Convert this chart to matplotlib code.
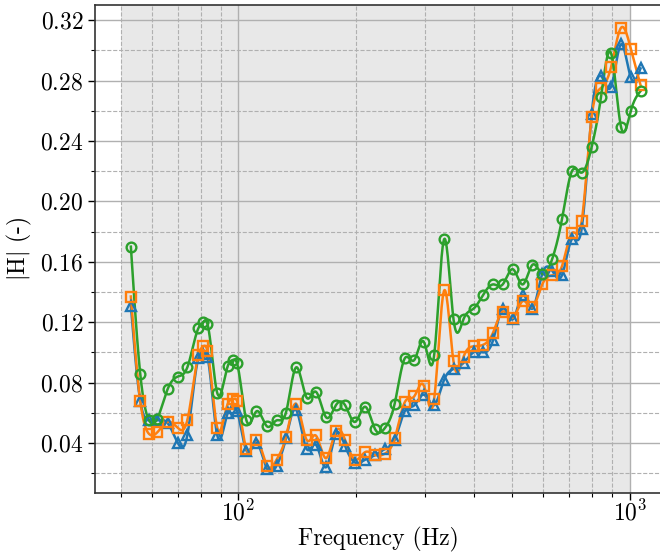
import numpy as np
import matplotlib
matplotlib.use("Agg")
import matplotlib.pyplot as plt
from matplotlib.ticker import MultipleLocator, FixedLocator, NullFormatter, FormatStrFormatter

plt.rcParams['font.family'] = 'serif'
plt.rcParams['font.serif'] = ['cmr10', 'DejaVu Serif']
plt.rcParams['mathtext.fontset'] = 'cm'
plt.rcParams['axes.formatter.use_mathtext'] = True
plt.rcParams['axes.unicode_minus'] = False

freq = [53.1, 56.1, 59.1, 62.0, 66.0, 70.0, 74.0, 79.0, 81.3, 83.3,
        88.3, 93.9, 96.8, 99.1, 104.8, 111.2, 118.3, 125.2, 132.2, 140.3,
        149.4, 157.6, 167.5, 177.4, 187.3, 198.7, 210.8, 223.6, 236.8, 250.7,
        266.0, 281.5, 297.6, 316.2, 335.5, 354.4, 375.9, 398.9, 421.7, 447.2,
        473.3, 503.1, 532.5, 564.0, 597.3, 633.7, 670.7, 711.5, 753.3, 799.0,
        844.0, 895.8, 950.0, 1006.0, 1065.0]

series_blue = [0.131, 0.068, 0.055, 0.055, 0.053, 0.040, 0.045, 0.096, 0.099, 0.097,
               0.045, 0.060, 0.063, 0.061, 0.035, 0.040, 0.023, 0.025, 0.043, 0.062,
               0.036, 0.039, 0.024, 0.046, 0.038, 0.027, 0.029, 0.032, 0.036, 0.042,
               0.061, 0.065, 0.072, 0.065, 0.082, 0.089, 0.093, 0.100, 0.100, 0.108,
               0.129, 0.122, 0.138, 0.129, 0.152, 0.154, 0.151, 0.175, 0.182, 0.258,
               0.283, 0.276, 0.304, 0.282, 0.288]

series_orange = [0.137, 0.068, 0.046, 0.047, 0.054, 0.050, 0.055, 0.098, 0.104, 0.101,
                 0.050, 0.066, 0.069, 0.068, 0.036, 0.042, 0.025, 0.029, 0.044, 0.066,
                 0.042, 0.045, 0.030, 0.048, 0.042, 0.029, 0.034, 0.032, 0.033, 0.043,
                 0.067, 0.071, 0.078, 0.069, 0.141, 0.094, 0.097, 0.104, 0.105, 0.113,
                 0.127, 0.123, 0.134, 0.130, 0.145, 0.151, 0.157, 0.179, 0.187, 0.256,
                 0.275, 0.289, 0.315, 0.301, 0.277]

series_green = [0.170, 0.086, 0.055, 0.056, 0.076, 0.084, 0.090, 0.116, 0.120, 0.119,
                0.073, 0.091, 0.095, 0.093, 0.055, 0.061, 0.051, 0.055, 0.060, 0.090,
                0.070, 0.074, 0.057, 0.065, 0.065, 0.054, 0.064, 0.049, 0.050, 0.066,
                0.096, 0.095, 0.107, 0.098, 0.175, 0.122, 0.122, 0.129, 0.138, 0.145,
                0.145, 0.155, 0.145, 0.158, 0.152, 0.162, 0.188, 0.220, 0.219, 0.236,
                0.269, 0.298, 0.249, 0.260, 0.273]

band = (50, 1000)
ytick_vals = [0.04, 0.08, 0.12, 0.16, 0.20, 0.24, 0.28, 0.32]


def natural_spline(x, y, xn):
    x = np.asarray(x, float)
    y = np.asarray(y, float)
    n = len(x)
    h = np.diff(x)
    A = np.zeros((n, n))
    r = np.zeros(n)
    A[0, 0] = 1.0
    A[-1, -1] = 1.0
    for i in range(1, n - 1):
        A[i, i - 1] = h[i - 1]
        A[i, i] = 2 * (h[i - 1] + h[i])
        A[i, i + 1] = h[i]
        r[i] = 3 * ((y[i + 1] - y[i]) / h[i] - (y[i] - y[i - 1]) / h[i - 1])
    c = np.linalg.solve(A, r)
    b = (y[1:] - y[:-1]) / h - h * (2 * c[:-1] + c[1:]) / 3
    d = (c[1:] - c[:-1]) / (3 * h)
    idx = np.clip(np.searchsorted(x, xn) - 1, 0, n - 2)
    dx = xn - x[idx]
    return y[idx] + b[idx] * dx + c[idx] * dx ** 2 + d[idx] * dx ** 3


fig = plt.figure(figsize=(6.6, 5.53), dpi=100)
ax = fig.add_axes([95 / 660, 60 / 553, 1.004 - 95 / 660, (493 - 5) / 553])

ax.axvspan(band[0], band[1], color='#e8e8e8', zorder=0, lw=0)

lx = np.log10(freq)
xn = np.linspace(lx[0], lx[-1], 1500)
fn = 10 ** xn

specs = [(series_blue, 'C0', '^'), (series_orange, 'C1', 's'), (series_green, 'C2', 'o')]
for vals, col, mk in specs:
    ax.plot(fn, natural_spline(lx, vals, xn), color=col, lw=1.8, zorder=3)
    ax.plot(freq, vals, ls='none', marker=mk, ms=7.0, mfc='none', mec=col,
            mew=1.7, zorder=4)

ax.set_xscale('log')
ax.set_xlim(43.0, 1213)
ax.set_ylim(0.0069, 0.330)

ax.yaxis.set_major_locator(FixedLocator(ytick_vals))
ax.yaxis.set_minor_locator(MultipleLocator(0.02))
ax.yaxis.set_major_formatter(FormatStrFormatter(r'$%.2f$'))
ax.xaxis.set_minor_formatter(NullFormatter())

ax.grid(which='major', color='#b0b0b0', lw=1.0, ls='-', zorder=1)
ax.grid(which='minor', color='#b0b0b0', lw=0.8, ls='--', zorder=1)
ax.set_axisbelow(True)

ax.tick_params(which='major', labelsize=17, length=5, width=1.0)
ax.tick_params(axis='x', which='major', pad=0)
ax.tick_params(which='minor', length=3, width=0.8)
for s in ax.spines.values():
    s.set_color('#333333')
    s.set_linewidth(1.2)

ax.set_xlabel('Frequency (Hz)', fontsize=17, labelpad=1)
ax.set_ylabel(r'$|\mathrm{H}|$ (-)', fontsize=17)

fig.savefig('out.png', dpi=100)
